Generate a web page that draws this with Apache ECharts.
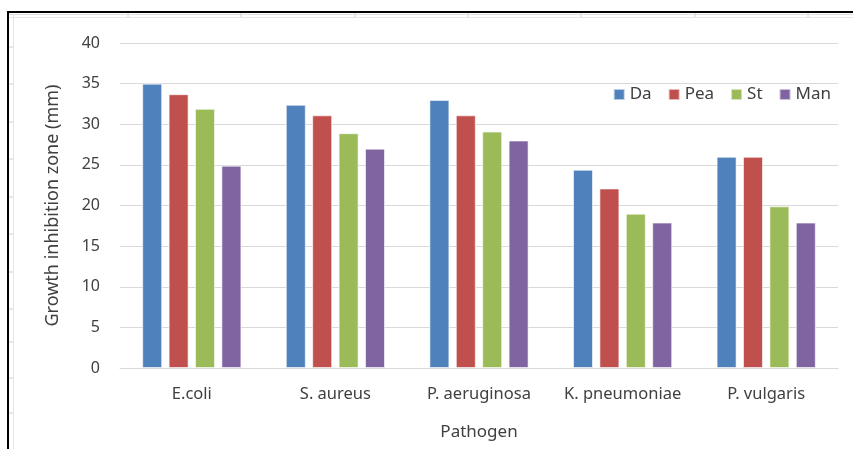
<!DOCTYPE html>
<html>
<head>
<meta charset="utf-8">
<script src="https://cdn.jsdelivr.net/npm/echarts@6/dist/echarts.min.js"></script>
<style>
  html, body { margin: 0; padding: 0; background: #fff; }
  #wrap { width: 853px; height: 449px; }
</style>
</head>
<body>
<div id="wrap"></div>
<script>
var pathogens = ['E.coli', 'S. aureus', 'P. aeruginosa', 'K. pneumoniae', 'P. vulgaris'];
var da  = [35, 32.4, 33, 24.4, 26];
var pea = [33.7, 31.1, 31.1, 22.1, 26];
var st  = [31.9, 28.9, 29.1, 19, 19.9];
var man = [24.9, 27, 28, 17.9, 17.9];

var textColor = '#404040';
var font = 'Noto Sans';

// spreadsheet frame behind the chart
var frame = [];
var cols = [128, 241, 355, 468, 581, 695, 808];
cols.forEach(function (x) {
  frame.push({ type: 'line', shape: { x1: x, y1: 13, x2: x, y2: 17 }, style: { stroke: '#d0d0d0', lineWidth: 1 } });
});
[47, 84, 122, 159, 197, 234, 272, 309, 342, 378, 413].forEach(function (y) {
  frame.push({ type: 'line', shape: { x1: 9, y1: y, x2: 13, y2: y }, style: { stroke: '#d0d0d0', lineWidth: 1 } });
});
frame.push({ type: 'line', shape: { x1: 9, y1: 14.5, x2: 853, y2: 14.5 }, style: { stroke: '#e0e0e0', lineWidth: 1 } });
frame.push({ type: 'line', shape: { x1: 9, y1: 17.5, x2: 853, y2: 17.5 }, style: { stroke: '#e6e6e6', lineWidth: 1 } });
frame.push({ type: 'line', shape: { x1: 13.5, y1: 14, x2: 13.5, y2: 449 }, style: { stroke: '#e6e6e6', lineWidth: 1 } });
frame.push({ type: 'line', shape: { x1: 7, y1: 12, x2: 853, y2: 12 }, style: { stroke: '#000', lineWidth: 2 } });
frame.push({ type: 'line', shape: { x1: 8, y1: 11, x2: 8, y2: 449 }, style: { stroke: '#000', lineWidth: 2 } });

function bar(name, data, color) {
  return {
    name: name,
    type: 'bar',
    data: data,
    barWidth: 20,
    barGap: '32%',
    itemStyle: { color: color, borderColor: 'rgba(255,255,255,0.6)', borderWidth: 1 }
  };
}

var option = {
  animation: false,
  backgroundColor: '#fff',
  textStyle: { fontFamily: font },
  graphic: frame,
  legend: {
    data: ['Da', 'Pea', 'St', 'Man'],
    right: 17,
    top: 81,
    itemWidth: 11,
    itemHeight: 11,
    itemGap: 16,
    icon: 'rect',
    textStyle: { color: textColor, fontSize: 17, fontFamily: font }
  },
  grid: {
    left: 120,
    right: 15,
    top: 43,
    bottom: 81
  },
  xAxis: {
    type: 'category',
    data: pathogens,
    name: 'Pathogen',
    nameLocation: 'middle',
    nameGap: 56,
    nameTextStyle: { color: textColor, fontSize: 17, fontFamily: font },
    axisLine: { lineStyle: { color: '#d9d9d9', width: 1 } },
    axisTick: { show: false },
    axisLabel: { color: textColor, fontSize: 16.5, margin: 18, interval: 0, hideOverlap: false, fontFamily: font }
  },
  yAxis: {
    type: 'value',
    min: 0,
    max: 40,
    interval: 5,
    name: 'Growth inhibition zone (mm)',
    nameLocation: 'middle',
    nameGap: 58,
    nameTextStyle: { color: textColor, fontSize: 18, fontFamily: font },
    axisLine: { show: false },
    axisTick: { show: false },
    axisLabel: { color: textColor, fontSize: 16, margin: 20, fontFamily: font },
    splitLine: { lineStyle: { color: '#d9d9d9', width: 1 } }
  },
  series: [
    bar('Da', da, '#4f81bd'),
    bar('Pea', pea, '#c0504d'),
    bar('St', st, '#9bbb59'),
    bar('Man', man, '#8064a2')
  ]
};

var myChart = echarts.init(document.getElementById('wrap'));
myChart.setOption(option);
</script>
</body>
</html>
